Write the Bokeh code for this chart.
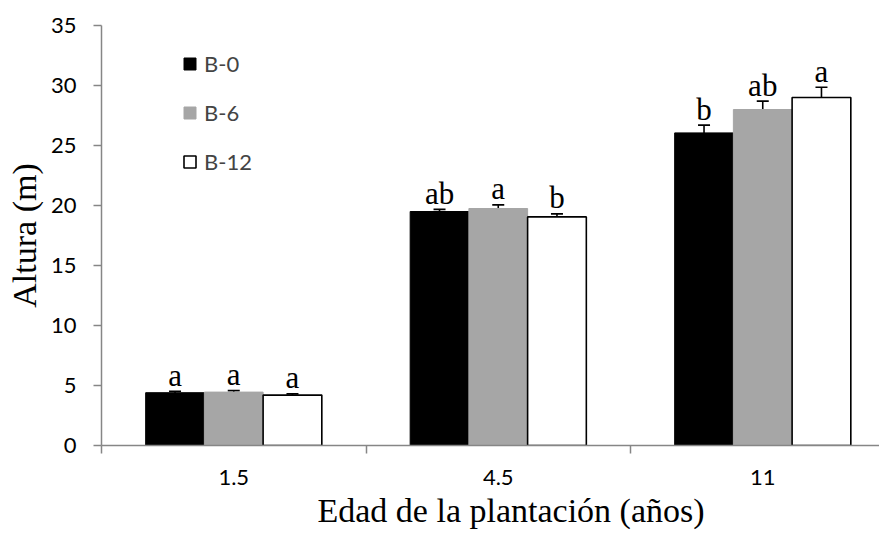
from bokeh.plotting import figure
from bokeh.models import Range1d, FixedTicker, Whisker, TeeHead, ColumnDataSource, Legend, LegendItem, Title
from bokeh.core.properties import value
from bokeh.embed import file_html
from bokeh.resources import INLINE

# ---- data ----
categories = ["1.5", "4.5", "11"]
series = ["B-0", "B-6", "B-12"]
b0 = [4.40, 19.50, 26.05]
b6 = [4.45, 19.75, 28.00]
b12 = [4.20, 19.05, 29.00]
err_b0 = [0.12, 0.18, 0.65]
err_b6 = [0.12, 0.30, 0.70]
err_b12 = [0.10, 0.25, 0.85]
let_b0 = ["a", "ab", "b"]
let_b6 = ["a", "a", "ab"]
let_b12 = ["a", "b", "a"]
y_ticks = [0, 5, 10, 15, 20, 25, 30, 35]

fills = ["#000000", "#A6A6A6", "#FFFFFF"]
lines = ["#000000", "#A6A6A6", "#000000"]
AXIS = "#868686"
bar_w = 0.222
offsets = [-bar_w, 0.0, bar_w]

p = figure(width=879, height=530, output_backend="svg", toolbar_location=None,
           x_range=Range1d(0, 778 / 264.5), y_range=Range1d(0, 35),
           min_border_left=101, min_border_right=0, min_border_top=25, min_border_bottom=85)
p.outline_line_color = None
p.grid.grid_line_color = None
p.background_fill_color = "white"

items = []
for vals, errs, lets, name, fc, lc, off in zip([b0, b6, b12], [err_b0, err_b6, err_b12],
                                             [let_b0, let_b6, let_b12], series, fills, lines, offsets):
    xs = [i + 0.5 + off for i in range(len(categories))]
    src = ColumnDataSource(dict(x=xs, top=vals,
                                lo=[v - e for v, e in zip(vals, errs)],
                                hi=[v + e for v, e in zip(vals, errs)],
                                lab=lets))
    r = p.vbar(x="x", top="top", bottom=0, width=bar_w, source=src,
               fill_color=fc, line_color=lc, line_width=1.6 if fc == "#FFFFFF" else 1)
    items.append(LegendItem(label=name, renderers=[r]))
    w = Whisker(base="x", lower="lo", upper="hi", source=src, line_color="black", line_width=1.6,
                upper_head=TeeHead(size=12, line_color="black", line_width=1.6),
                lower_head=TeeHead(size=12, line_color="black", line_width=1.6))
    p.add_layout(w)
    p.text(x="x", y="hi", text="lab", source=src, text_align="center", text_baseline="alphabetic",
           y_offset=-16, text_font=value("Liberation Serif"), text_font_size="31px", text_color="black")

legend = Legend(items=items, location=(81, 270), orientation="vertical",
                glyph_width=15, glyph_height=15, label_height=26, spacing=22,
                padding=0, margin=0, border_line_color=None, background_fill_alpha=0,
                label_text_font="Lato", label_text_font_size="22px", label_standoff=7)
p.add_layout(legend)

# x axis
xa = p.xaxis[0]
xa.ticker = FixedTicker(ticks=[i + 0.5 for i in range(len(categories))],
                        minor_ticks=list(range(len(categories) + 1)))
xa.major_label_overrides = {i + 0.5: c for i, c in enumerate(categories)}
xa.major_tick_line_color = None
xa.major_tick_out = 0
xa.major_tick_in = 0
xa.minor_tick_line_color = AXIS
xa.minor_tick_line_width = 1.5
xa.minor_tick_out = 8
xa.minor_tick_in = 0
xa.axis_line_color = AXIS
xa.axis_line_width = 1.5
xa.major_label_standoff = 16
xa.major_label_text_font = "Lato"
xa.major_label_text_font_size = "22px"
xa.major_label_text_color = "black"

xt = Title(text="Edad de la plantación (años)", align="left", offset=216,
           text_font="Liberation Serif", text_font_size="34px", text_font_style="normal",
           text_color="black", standoff=4)
p.add_layout(xt, "below")

ya = p.yaxis[0]
ya.ticker = FixedTicker(ticks=y_ticks, minor_ticks=[])
ya.major_tick_line_color = AXIS
ya.major_tick_line_width = 1.5
ya.major_tick_out = 8
ya.major_tick_in = 0
ya.axis_line_color = AXIS
ya.axis_line_width = 1.5
ya.major_label_standoff = 17
ya.major_label_text_font = "Lato"
ya.major_label_text_font_size = "22px"
ya.major_label_text_color = "black"
ya.axis_label = "Altura (m)"
ya.axis_label_text_font = "Liberation Serif"
ya.axis_label_text_font_size = "34px"
ya.axis_label_text_font_style = "normal"
ya.axis_label_text_color = "black"
ya.axis_label_standoff = 5

open("out.html", "w").write(file_html(p, INLINE))
